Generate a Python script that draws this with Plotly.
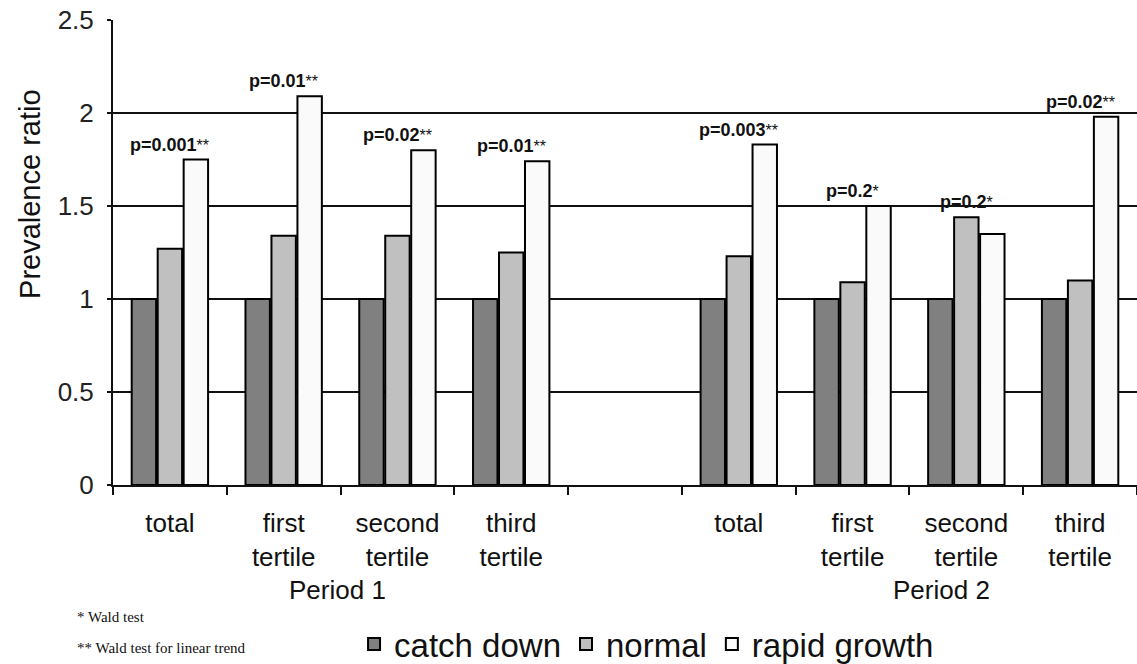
import plotly.graph_objects as go

# ---- data ----
slot_keys = ["p1_total", "p1_first", "p1_second", "p1_third", "gap",
             "p2_total", "p2_first", "p2_second", "p2_third"]
tick_labels = ["total", "first<br>tertile", "second<br>tertile", "third<br>tertile", "",
               "total", "first<br>tertile", "second<br>tertile", "third<br>tertile"]
catch_down = [1, 1, 1, 1, None, 1, 1, 1, 1]
normal = [1.27, 1.34, 1.34, 1.25, None, 1.23, 1.09, 1.44, 1.10]
rapid_growth = [1.75, 2.09, 1.80, 1.74, None, 1.83, 1.50, 1.35, 1.98]
p_values = ["p=0.001**", "p=0.01**", "p=0.02**", "p=0.01**", "",
            "p=0.003**", "p=0.2*", "p=0.2*", "p=0.02**"]
series_names = ["catch down", "normal", "rapid growth"]
series_colors = ["#808080", "#c0c0c0", "#fafafa"]
period_labels = ["Period 1", "Period 2"]
footnotes = ["* Wald test", "** Wald test for linear trend"]

FONT = "Liberation Sans, Arial, sans-serif"

fig = go.Figure()
for name, vals, col in zip(series_names, [catch_down, normal, rapid_growth], series_colors):
    fig.add_trace(go.Bar(
        x=slot_keys, y=vals, name=name,
        marker=dict(color=col, line=dict(color="black", width=2)),
    ))

# p-value annotations above tallest bar of each group
for key, pv, a, b, c in zip(slot_keys, p_values, catch_down, normal, rapid_growth):
    if not pv:
        continue
    top = max(a, b, c)
    stars = pv.count("*")
    base = pv.rstrip("*")
    fig.add_annotation(
        x=key, y=top, xref="x", yref="y",
        text="<b>" + base + "</b><span style='font-size:16px'>" + "*" * stars + "</span>",
        showarrow=False, yanchor="bottom", xanchor="center", yshift=3,
        font=dict(family=FONT, size=18, color="#111"),
    )

# period labels
for lbl, xp in zip(period_labels, [0.21875, 0.8086]):
    fig.add_annotation(x=xp, y=-0.226, xref="paper", yref="paper", text=lbl,
                       showarrow=False, xanchor="center", yanchor="middle",
                       font=dict(family=FONT, size=26, color="#111"))

# footnotes
for txt, yp in zip(footnotes, [-0.284, -0.3505]):
    fig.add_annotation(x=-0.037, y=yp, xref="paper", yref="paper", text=txt,
                       showarrow=False, xanchor="left", yanchor="middle",
                       font=dict(family="Liberation Serif, Times New Roman, serif", size=15, color="#111"))

# y title
fig.add_annotation(x=-0.081, y=0.626, xref="paper", yref="paper", text="Prevalence ratio",
                   showarrow=False, textangle=-90, xanchor="center", yanchor="middle",
                   font=dict(family=FONT, size=29, color="#111"))

fig.update_layout(
    width=1137, height=664,
    margin=dict(l=113, r=0, t=20, b=179, autoexpand=False),
    plot_bgcolor="white", paper_bgcolor="white",
    barmode="group", bargap=0.315, bargroupgap=0.06,
    font=dict(family=FONT, color="#111"),
    legend=dict(orientation="h", x=0.2354, y=-0.342, xanchor="left", yanchor="middle",
                font=dict(family=FONT, size=33, color="#111"), bgcolor="rgba(0,0,0,0)",
                traceorder="normal"),
    xaxis=dict(type="category", categoryorder="array", categoryarray=slot_keys,
               tickmode="array", tickvals=slot_keys, ticktext=tick_labels,
               tickson="boundaries", ticks="outside", ticklen=8, tickwidth=2, tickcolor="#111",
               showline=True, linecolor="#111", linewidth=2, showgrid=False,
               automargin=False, ticklabelstandoff=14,
               range=[-0.5, 8.5], tickfont=dict(family=FONT, size=26, color="#111")),
    yaxis=dict(range=[0, 2.5], tickvals=[0, 0.5, 1, 1.5, 2, 2.5],
               ticktext=["0", "0.5", "1", "1.5", "2", "2.5"],
               showgrid=True, gridcolor="#111", gridwidth=1.5, zeroline=False,
               showline=True, linecolor="#111", linewidth=2,
               ticks="outside", ticklen=4, tickwidth=2, tickcolor="#111",
               ticklabelstandoff=8, automargin=False,
               tickfont=dict(family=FONT, size=26, color="#222")),
)

fig.write_html("out.html", config={"displayModeBar": False},
               post_script="document.body.style.margin='0';document.body.style.overflow='hidden';")
